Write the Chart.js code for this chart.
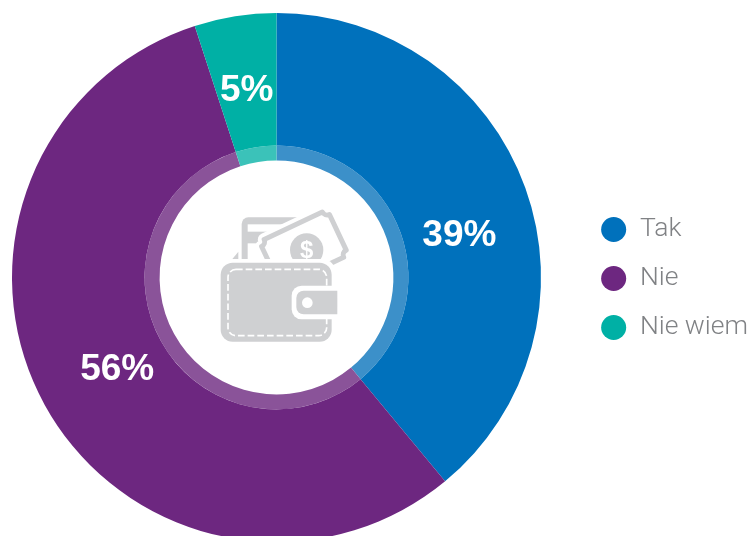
<!doctype html>
<html>
<head>
  <meta charset="utf-8" />
  <style>
    html, body { margin: 0; background: #fff; overflow: hidden; height: 536px; }
    canvas { display: block; }
  </style>
  <script src="https://cdn.jsdelivr.net/npm/chart.js@4"></script>
</head>
<body>
<canvas id="chart" width="749" height="550"></canvas>
<script>
  const categories = ["Tak", "Nie", "Nie wiem"];
  const shares = [39, 56, 5];
  const colors = ["#0071bc", "#6d2780", "#00b0a5"];
  const ringColors = ["#3c90c9", "#8a5399", "#3bc2b9"];

  // the source chart does not sit its labels quite in the middle of the slices
  const labelTurn = [0.115, -0.02, 0];
  const labelReach = [0.71, 0.695, 0.72];

  const percentLabels = {
    id: "percentLabels",
    afterDatasetsDraw(chart) {
      const { ctx } = chart;
      const arcs = chart.getDatasetMeta(0).data;
      ctx.save();
      ctx.font = "bold 37px 'Liberation Sans'";
      ctx.fillStyle = "#fff";
      ctx.textAlign = "center";
      ctx.textBaseline = "middle";
      arcs.forEach((arc, i) => {
        const mid = (arc.startAngle + arc.endAngle) / 2 + labelTurn[i];
        const r = arc.outerRadius * labelReach[i];
        ctx.fillText(shares[i] + "%", arc.x + Math.cos(mid) * r, arc.y + Math.sin(mid) * r + 1);
      });
      ctx.restore();
    }
  };

  function roundedRect(ctx, x, y, w, h, r) {
    ctx.beginPath();
    ctx.roundRect(x, y, w, h, r);
  }

  // rectangle with corners bitten inwards, the shape of the banknote
  function notePath(ctx, w, h, r) {
    ctx.beginPath();
    ctx.moveTo(r, 0);
    ctx.lineTo(w - r, 0);
    ctx.arc(w, 0, r, Math.PI, Math.PI / 2, true);
    ctx.lineTo(w, h - r);
    ctx.arc(w, h, r, -Math.PI / 2, Math.PI, true);
    ctx.lineTo(r, h);
    ctx.arc(0, h, r, 0, -Math.PI / 2, true);
    ctx.lineTo(0, r);
    ctx.arc(0, 0, r, Math.PI / 2, 0, true);
    ctx.closePath();
  }

  // wallet icon in the hole, units are a 3x grid over a 160px box
  const walletIcon = {
    id: "walletIcon",
    afterDraw(chart) {
      const { ctx } = chart;
      const gray = "#cfd0d2";
      const arc = chart.getDatasetMeta(0).data[0];
      ctx.save();
      ctx.translate(arc.x - 76.5, arc.y - 87.5);
      ctx.scale(1 / 3, 1 / 3);

      // card
      ctx.fillStyle = gray;
      roundedRect(ctx, 125, 82, 190, 135, [20, 0, 0, 0]);
      ctx.fill();
      ctx.fillStyle = "#fff";
      ctx.fillRect(143, 103, 180, 22);
      ctx.fillRect(143, 160, 180, 60);

      // banknote
      ctx.save();
      ctx.translate(178, 155);
      ctx.rotate(-0.44);
      ctx.fillStyle = "#fff";
      ctx.strokeStyle = "#fff";
      ctx.lineWidth = 38;
      ctx.lineJoin = "round";
      notePath(ctx, 225, 150, 16);
      ctx.fill();
      ctx.stroke();
      ctx.strokeStyle = gray;
      ctx.lineWidth = 15;
      notePath(ctx, 225, 150, 16);
      ctx.stroke();
      ctx.restore();

      // coin
      ctx.fillStyle = gray;
      ctx.beginPath();
      ctx.arc(320, 180, 50, 0, Math.PI * 2);
      ctx.fill();
      ctx.fillStyle = "#fff";
      ctx.font = "bold 72px 'Liberation Sans'";
      ctx.textAlign = "center";
      ctx.textBaseline = "middle";
      ctx.fillText("$", 320, 184);

      // flap
      ctx.fillStyle = gray;
      ctx.beginPath();
      ctx.moveTo(62, 250);
      ctx.lineTo(115, 185);
      ctx.lineTo(115, 230);
      ctx.closePath();
      ctx.fill();

      // body
      ctx.fillStyle = "#fff";
      roundedRect(ctx, 50, 207, 357, 260, 40);
      ctx.fill();
      ctx.fillStyle = gray;
      roundedRect(ctx, 62, 218, 333, 237, 36);
      ctx.fill();

      // stitching
      ctx.strokeStyle = "#fff";
      ctx.lineWidth = 5;
      ctx.setLineDash([20, 9]);
      roundedRect(ctx, 84, 238, 296, 199, 24);
      ctx.stroke();
      ctx.setLineDash([]);

      // clasp
      ctx.fillStyle = "#fff";
      roundedRect(ctx, 275, 287, 137, 101, [30, 0, 0, 30]);
      ctx.fill();
      ctx.fillStyle = gray;
      roundedRect(ctx, 289, 302, 123, 71, [22, 0, 0, 22]);
      ctx.fill();
      ctx.fillStyle = "#fff";
      ctx.beginPath();
      ctx.arc(322, 338, 16, 0, Math.PI * 2);
      ctx.fill();
      ctx.restore();
    }
  };

  // keep the ring square on the left, and slide the legend to its place
  const squareArea = {
    id: "squareArea",
    afterLayout(chart) {
      const area = chart.chartArea;
      area.right = area.left + (area.bottom - area.top);
      area.width = area.right - area.left;
      const legend = chart.legend;
      legend.left += 9;
      legend.right += 9;
      legend.top += 1;
      legend.bottom += 1;
    }
  };

  new Chart(document.getElementById("chart"), {
    type: "doughnut",
    data: {
      labels: categories,
      datasets: [
        { data: shares, backgroundColor: colors, borderWidth: 0, weight: 132.5 },
        { data: shares, backgroundColor: ringColors, borderWidth: 0, weight: 15 }
      ]
    },
    options: {
      responsive: false,
      animation: false,
      cutout: "44.2%",
      layout: { padding: { left: 12, top: 13, bottom: 8, right: 0 } },
      plugins: {
        tooltip: { enabled: false },
        legend: {
          position: "right",
          labels: {
            usePointStyle: true,
            pointStyle: "circle",
            boxWidth: 26,
            boxHeight: 17.7,
            padding: 22.5,
            color: "#808285",
            font: { family: "Roboto", size: 26.5, weight: "300" },
            generateLabels(chart) {
              return categories.map((text, i) => ({
                text,
                fillStyle: colors[i],
                strokeStyle: colors[i],
                lineWidth: 0,
                fontColor: "#808285",
                pointStyle: "circle",
                index: i
              }));
            }
          }
        }
      }
    },
    plugins: [squareArea, percentLabels, walletIcon]
  });
</script>
</body>
</html>
